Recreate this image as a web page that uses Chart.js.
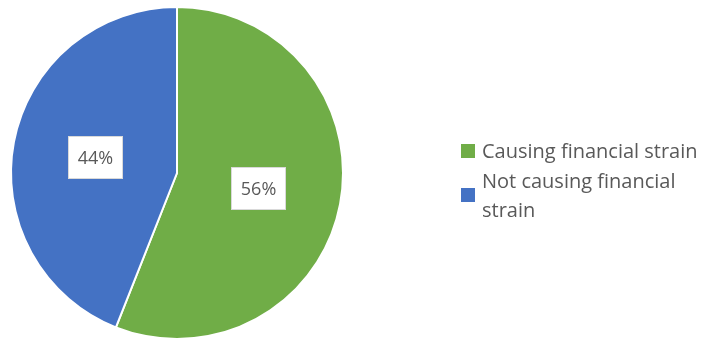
<!DOCTYPE html>
<html>
<head>
<meta charset="utf-8">
<script src="https://cdn.jsdelivr.net/npm/chart.js@4.4.1/dist/chart.umd.min.js"></script>
<style>
    html, body { margin: 0; padding: 0; background: #ffffff; }
    #wrap { position: relative; width: 710px; height: 341px; }
</style>
</head>
<body>
<div id="wrap"><canvas id="pie" width="710" height="341"></canvas></div>
<script>
// Quota di chi dichiara che la spesa causa difficoltà economiche
const categories = ['Causing financial strain', 'Not causing financial strain'];
const shares = [56, 44];
const colors = ['#70AD47', '#4472C4'];

const TEXT_COLOR = '#595959';
const FONT = '"Open Sans", "DejaVu Sans", sans-serif';

// etichette percentuali in riquadro bianco al centro di ogni fetta
const boxLabels = {
    id: 'boxLabels',
    afterDatasetsDraw(chart) {
        const { ctx } = chart;
        const meta = chart.getDatasetMeta(0);
        ctx.save();
        ctx.font = `18px ${FONT}`;
        ctx.textAlign = 'center';
        ctx.textBaseline = 'middle';
        meta.data.forEach((arc, i) => {
            const p = arc.tooltipPosition();
            const txt = shares[i] + '%';
            const w = ctx.measureText(txt).width + 20;
            const h = 43;
            ctx.fillStyle = '#ffffff';
            ctx.fillRect(Math.round(p.x - w / 2), Math.round(p.y - h / 2), Math.round(w), h);
            ctx.strokeStyle = '#d9d9d9';
            ctx.lineWidth = 1;
            ctx.strokeRect(Math.round(p.x - w / 2) + 0.5, Math.round(p.y - h / 2) + 0.5, Math.round(w) - 1, h - 1);
            ctx.fillStyle = TEXT_COLOR;
            ctx.fillText(txt, p.x, p.y + 1);
        });
        ctx.restore();
    },
};

// legenda a destra con testo che va a capo
const sideLegend = {
    id: 'sideLegend',
    afterDraw(chart) {
        const { ctx } = chart;
        const x = 461, textX = 482, maxW = 710 - textX - 4;
        const lineH = 29.5, box = 14;
        let y = 158;
        ctx.save();
        ctx.font = `20px ${FONT}`;
        ctx.textAlign = 'left';
        ctx.textBaseline = 'alphabetic';
        categories.forEach((label, i) => {
            const lines = [];
            let cur = '';
            label.split(' ').forEach(word => {
                const test = cur ? cur + ' ' + word : word;
                if (ctx.measureText(test).width > maxW && cur) {
                    lines.push(cur);
                    cur = word;
                } else {
                    cur = test;
                }
            });
            lines.push(cur);
            const midY = y + (lines.length - 1) * lineH / 2 - 7;
            ctx.fillStyle = colors[i];
            ctx.fillRect(x, Math.round(midY - box / 2), box, box);
            ctx.fillStyle = TEXT_COLOR;
            lines.forEach((ln, k) => ctx.fillText(ln, textX, y + k * lineH));
            y += lines.length * lineH;
        });
        ctx.restore();
    },
};

new Chart(document.getElementById('pie'), {
    type: 'pie',
    data: {
        labels: categories,
        datasets: [{
            data: shares,
            backgroundColor: colors,
            borderColor: '#ffffff',
            borderWidth: 2,
        }],
    },
    options: {
        responsive: false,
        animation: false,
        layout: { padding: { left: 10, top: 6, right: 366, bottom: 1 } },
        plugins: {
            legend: { display: false },
            tooltip: { enabled: false },
        },
    },
    plugins: [boxLabels, sideLegend],
});
</script>
</body>
</html>
